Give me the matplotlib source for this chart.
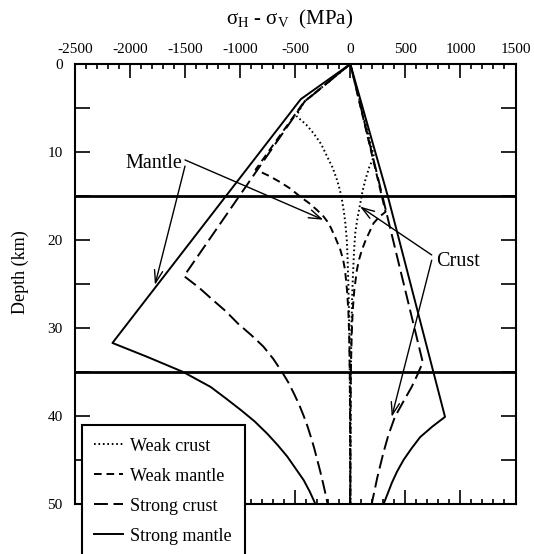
import matplotlib
matplotlib.use("Agg")
import matplotlib.pyplot as plt
from matplotlib.ticker import MultipleLocator

plt.rcParams["font.family"] = ["Liberation Serif", "DejaVu Serif"]
plt.rcParams["mathtext.fontset"] = "custom"
plt.rcParams["mathtext.rm"] = "Liberation Serif"
plt.rcParams["mathtext.it"] = "Liberation Serif:italic"
plt.rcParams["axes.unicode_minus"] = False
plt.rcParams["lines.scale_dashes"] = False

# stress difference (MPa) against depth (km); compression < 0, extension > 0
weak_crust_comp_z = [0, 4.3, 5.9, 6.9, 7.9, 9.1, 10.5, 11.8, 13.2, 14.3, 15.5, 16.8, 18.1, 20.0, 21.7, 23.4, 25, 27, 30, 35, 40, 50]
weak_crust_comp_s = [0, -420, -490, -400, -332, -265, -211, -160, -120, -95, -75, -58, -45, -32, -26, -22, -18, -14, -9, -5, -3, 0]
weak_crust_ext_z = [0, 10.5, 11.8, 13.2, 14.5, 15.8, 17.5, 19.2, 20.8, 22.3, 24, 26, 30, 35, 40, 50]
weak_crust_ext_s = [0, 215, 170, 136, 110, 91, 65, 45, 36, 30, 24, 18, 10, 5, 3, 0]

weak_mantle_comp_z = [0, 4.3, 12.0, 12.7, 13.4, 14.2, 15.1, 15.8, 16.6, 17.3, 18.1, 19.6, 21.1, 22.2, 23.4, 25.7, 28, 31, 35, 40, 50]
weak_mantle_comp_s = [0, -420, -860, -740, -640, -540, -453, -375, -302, -245, -196, -140, -91, -66, -48, -30, -18, -10, -5, -2, 0]
weak_mantle_ext_z = [0, 16.8, 17.4, 18.1, 18.9, 20.0, 21.1, 22.2, 23.4, 25.7, 28, 31, 35, 40, 50]
weak_mantle_ext_s = [0, 320, 260, 211, 181, 140, 106, 80, 60, 36, 22, 12, 5, 2, 0]

strong_crust_comp_z = [0, 4.3, 24.1, 25.4, 26.8, 28.1, 29.5, 30.8, 32.1, 33.5, 35, 36.2, 37.5, 38.7, 40,
                       41.2, 42.5, 43.7, 45, 46.2, 47.5, 48.7, 50]
strong_crust_comp_s = [0, -417, -1510, -1375, -1250, -1130, -1020, -900, -790, -700, -620, -562, -510, -465, -423,
                       -388, -355, -327, -300, -275, -250, -228, -206]
strong_crust_ext_z = [0, 33.9, 35.3, 36.7, 38.4, 40.1, 42.2, 44.2, 47, 50]
strong_crust_ext_s = [0, 658, 610, 557, 480, 405, 345, 300, 245, 194]

strong_mantle_comp_z = [0, 4.0, 31.7, 33.3, 35, 36.7, 38, 39.3, 40.6, 42, 43.3, 44.6, 46, 47.3, 48.6, 50]
strong_mantle_comp_s = [0, -450, -2160, -1840, -1517, -1268, -1130, -996, -870, -755, -660, -573, -495, -423, -368, -317]
strong_mantle_ext_z = [0, 15, 40.1, 41.2, 42.4, 43.7, 45, 46.3, 47.6, 48.8, 50]
strong_mantle_ext_s = [0, 340, 860, 745, 634, 555, 483, 425, 377, 340, 302]

boundaries = [15, 35]

fig = plt.figure(figsize=(5.34, 5.54), dpi=100)
ax = fig.add_axes([75 / 534, 50 / 554, 440.5 / 534, 440 / 554])

lw = 1.4
styles = {
    "Weak crust": dict(linestyle=(0, (1.2, 2.0))),
    "Weak mantle": dict(linestyle=(0, (5.5, 3.5))),
    "Strong crust": dict(linestyle=(0, (10, 4))),
    "Strong mantle": dict(linestyle="-"),
}
series = [
    ("Weak crust", weak_crust_comp_z, weak_crust_comp_s, weak_crust_ext_z, weak_crust_ext_s),
    ("Weak mantle", weak_mantle_comp_z, weak_mantle_comp_s, weak_mantle_ext_z, weak_mantle_ext_s),
    ("Strong crust", strong_crust_comp_z, strong_crust_comp_s, strong_crust_ext_z, strong_crust_ext_s),
    ("Strong mantle", strong_mantle_comp_z, strong_mantle_comp_s, strong_mantle_ext_z, strong_mantle_ext_s),
]
for name, cz, cs, ez, es in series:
    ax.plot(cs, cz, color="black", lw=lw, label=name, **styles[name])
    ax.plot(es, ez, color="black", lw=lw, **styles[name])

for b in boundaries:
    ax.axhline(b, color="black", lw=2.0)

ax.set_xlim(-2500, 1500)
ax.set_ylim(50, 0)

ax.xaxis.set_major_locator(MultipleLocator(500))
ax.xaxis.set_minor_locator(MultipleLocator(100))
ax.yaxis.set_major_locator(MultipleLocator(10))
ax.yaxis.set_minor_locator(MultipleLocator(5))
ax.tick_params(axis="both", which="both", direction="in", top=True, right=True,
               bottom=True, left=True, width=1.2, labelsize=11)
ax.tick_params(axis="x", which="major", length=10, labeltop=True, labelbottom=False, pad=6)
ax.tick_params(axis="x", which="minor", length=3.6)
ax.tick_params(axis="y", which="both", length=11, pad=9)
for sp in ax.spines.values():
    sp.set_linewidth(1.5)

fig.text(290 / 534, 1 - 19 / 554, r"$\mathrm{\sigma_H}$ - $\mathrm{\sigma_V}$  (MPa)",
         ha="center", va="center", fontsize=15)
fig.text(20 / 534, 1 - 272 / 554, "Depth (km)", rotation=90, ha="center", va="center", fontsize=13)

arrow = dict(arrowstyle="->,head_length=0.9,head_width=0.3", color="black", lw=1.0,
             shrinkA=0, shrinkB=0)
ax.text(-1525, 11.3, "Mantle", ha="right", va="center", fontsize=14.5)
ax.annotate("", xy=(-245, 17.7), xytext=(-1501, 10.9), arrowprops=arrow)
ax.annotate("", xy=(-1774, 25.1), xytext=(-1501, 11.6), arrowprops=arrow)
ax.text(775, 22.5, "Crust", ha="left", va="center", fontsize=14.5)
ax.annotate("", xy=(88, 16.2), xytext=(739, 21.7), arrowprops=arrow)
ax.annotate("", xy=(376, 40.1), xytext=(739, 22.3), arrowprops=arrow)

leg = ax.legend(loc="upper left", bbox_to_anchor=(81.7 / 534, 1 - 425 / 554),
                bbox_transform=fig.transFigure, borderaxespad=0, fontsize=13,
                frameon=True, fancybox=False, framealpha=1, edgecolor="black",
                handlelength=1.6, handletextpad=0.4, labelspacing=0.72, borderpad=0.7)
leg.get_frame().set_linewidth(1.5)

fig.savefig("out.png", dpi=100)
